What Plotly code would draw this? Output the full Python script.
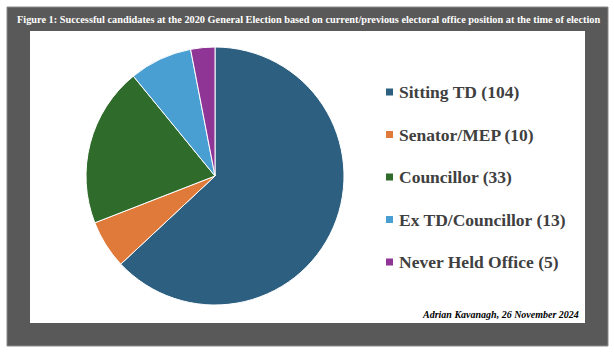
import plotly.graph_objects as go

labels = ["Sitting TD", "Senator/MEP", "Councillor", "Ex TD/Councillor", "Never Held Office"]
values = [104, 10, 33, 13, 5]
colors = ["#2D5F80", "#E07A3A", "#2F6B2B", "#4A9FD2", "#8E3596"]
title = "Figure 1: Successful candidates at the 2020 General Election based on current/previous electoral office position at the time of election"
credit = "Adrian Kavanagh, 26 November 2024"

W, H = 614, 358


def px(x):
    return x / W


def py(y):
    return 1 - y / H


fig = go.Figure(go.Pie(
    labels=labels, values=values, sort=False, direction="clockwise", rotation=0,
    marker=dict(colors=colors, line=dict(color="white", width=1)),
    textinfo="none", hoverinfo="label+value", showlegend=False,
    domain=dict(x=[px(86), px(344)], y=[py(305), py(47)]),
))

serif = "Liberation Serif, Times New Roman, serif"
shapes = [
    dict(type="rect", xref="paper", yref="paper", x0=px(7), x1=px(608), y0=py(346), y1=py(7),
         fillcolor="#595959", line=dict(color="#8a8a8a", width=1), layer="below"),
    dict(type="rect", xref="paper", yref="paper", x0=px(30), x1=px(585), y0=py(323), y1=py(31),
         fillcolor="white", line=dict(width=0), layer="below"),
]
annotations = [
    dict(text="<b>" + title + "</b>", x=px(308), y=py(19), xref="paper", yref="paper",
         showarrow=False, font=dict(family=serif, size=10.3, color="white"),
         xanchor="center", yanchor="middle"),
    dict(text="<b><i>" + credit + "</i></b>", x=px(581), y=py(314), xref="paper", yref="paper",
         showarrow=False, font=dict(family=serif, size=10, color="black"),
         xanchor="right", yanchor="middle"),
]
for i, (lab, val, col) in enumerate(zip(labels, values, colors)):
    yc = 92 + i * 42.5
    shapes.append(dict(type="rect", xref="paper", yref="paper", x0=px(386), x1=px(393),
                       y0=py(yc + 3.5), y1=py(yc - 3.5), fillcolor=col, line=dict(width=0)))
    annotations.append(dict(text=f"<b>{lab} ({val})</b>", x=px(397), y=py(yc), xref="paper", yref="paper",
                            showarrow=False, xanchor="left", yanchor="middle",
                            font=dict(family=serif, size=17.5, color="#404040")))

fig.update_layout(width=W, height=H, margin=dict(l=0, r=0, t=0, b=0),
                  paper_bgcolor="white", plot_bgcolor="white",
                  shapes=shapes, annotations=annotations)
fig.write_html("out.html", config={"displayModeBar": False},
               post_script="document.body.style.margin='0';document.body.style.overflow='hidden';")
